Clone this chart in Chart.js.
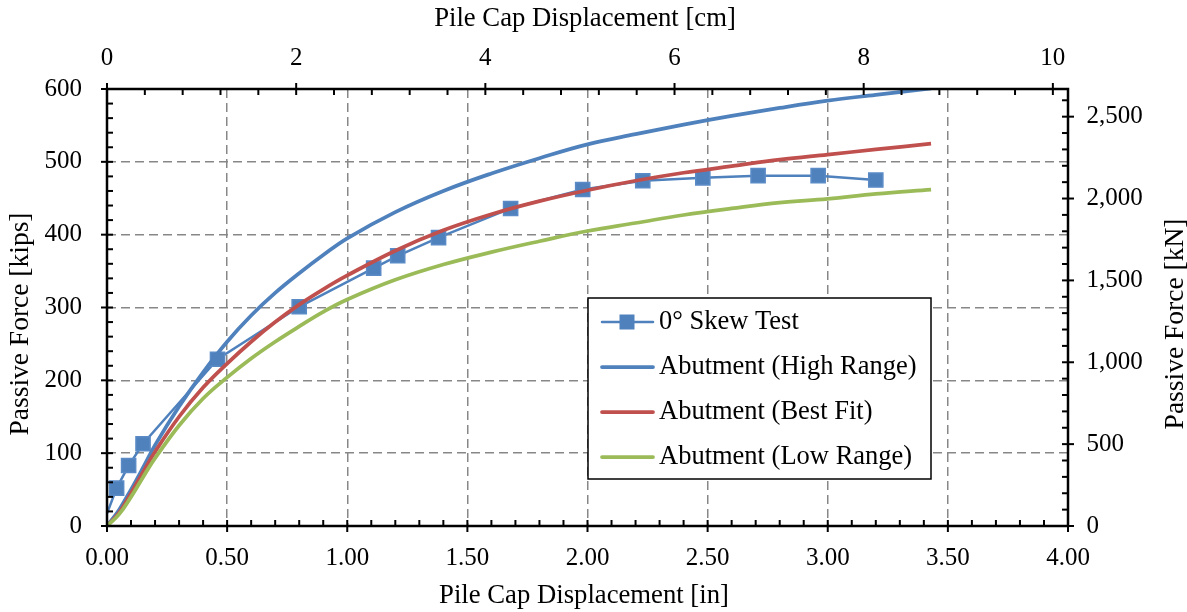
<!DOCTYPE html>
<html><head><meta charset="utf-8">
<script src="https://cdn.jsdelivr.net/npm/chart.js@4.4.0/dist/chart.umd.min.js"></script>
<style>html,body{margin:0;padding:0;background:#fff;}#wrap{width:1187px;height:612px;position:relative;}</style>
</head><body><div id="wrap"><canvas id="c" width="1187" height="612"></canvas></div>
<script>
// ---- data ----
const testX = [0, 0.04, 0.09, 0.15, 0.46, 0.80, 1.11, 1.21, 1.38, 1.68, 1.98, 2.23, 2.48, 2.71, 2.96, 3.20];
const testY = [17, 52, 83, 113, 229, 301, 354, 371, 396, 436, 462, 474, 478, 481, 481, 475];
const curveX = [0, 0.05, 0.1, 0.15, 0.2, 0.3, 0.4, 0.5, 0.6, 0.7, 0.8, 0.9, 1.0, 1.2, 1.4, 1.6, 1.8, 2.0, 2.2, 2.4, 2.6, 2.8, 3.0, 3.2, 3.43];
const highY = [0, 22, 50, 80, 111, 164, 211, 253, 289, 320, 347, 372, 395, 431, 460, 484, 505, 524, 538, 551, 563, 574, 584, 592, 601];
const bestY = [0, 18, 45, 74, 102, 150, 190, 223, 253, 280, 304, 325, 344, 378, 406, 428, 446, 461, 474, 485, 494, 503, 510, 517, 525];
const lowY  = [0, 16, 40, 67, 93, 138, 175, 204, 230, 253, 274, 294, 311, 338, 359, 376, 391, 405, 416, 427, 436, 444, 449, 456, 462];
const seriesNames = ['0° Skew Test', 'Abutment (High Range)', 'Abutment (Best Fit)', 'Abutment (Low Range)'];
const xTicksIn = [0, 0.5, 1.0, 1.5, 2.0, 2.5, 3.0, 3.5, 4.0];
const xTicksCm = [0, 2, 4, 6, 8, 10];
const yTicksKips = [0, 100, 200, 300, 400, 500, 600];
const yTicksKN = [0, 500, 1000, 1500, 2000, 2500];
const titles = {bottom: 'Pile Cap Displacement [in]', top: 'Pile Cap Displacement [cm]', left: 'Passive Force [kips]', right: 'Passive Force [kN]'};

const IN_TO_CM = 2.54, KIP_TO_KN = 4.448222;
const FONT = "'Liberation Serif', 'Times New Roman', serif";
const BLUE = '#4F81BD', RED = '#C0504D', GREEN = '#9BBB59';

const pts = (xs, ys) => xs.map((x, i) => ({x, y: ys[i]}));

const decor = {
  id: 'decor',
  afterDatasetsDraw(chart) {
    const {ctx, chartArea: a, scales} = chart;
    ctx.save();
    ctx.strokeStyle = '#000';
    ctx.lineWidth = 2;
    const line = (x1, y1, x2, y2) => {ctx.beginPath(); ctx.moveTo(x1, y1); ctx.lineTo(x2, y2); ctx.stroke();};
    const OUT = 6, IN = 6, MIN = 6;
    for (let i = 0; i <= 40; i++) {
      const x = scales.x.getPixelForValue(i / 10);
      if (i % 5 === 0) line(x, a.bottom - IN, x, a.bottom + OUT); else line(x, a.bottom - MIN, x, a.bottom);
    }
    for (let i = 0; i <= 25; i++) {
      const x = scales.x2.getPixelForValue(i * 0.4);
      if (i % 5 === 0) line(x, a.top - OUT, x, a.top + IN); else line(x, a.top, x, a.top + MIN);
    }
    for (let i = 0; i <= 30; i++) {
      const y = scales.y.getPixelForValue(i * 20);
      if (i % 5 === 0) line(a.left - OUT, y, a.left + IN, y); else line(a.left, y, a.left + MIN, y);
    }
    for (let i = 0; i <= 26; i++) {
      const y = scales.y2.getPixelForValue(i * 100);
      if (i % 5 === 0) line(a.right - IN, y, a.right + OUT, y); else line(a.right - MIN, y, a.right, y);
    }
    ctx.lineWidth = 2.5;
    ctx.strokeRect(a.left, a.top, a.right - a.left, a.bottom - a.top);
    ctx.restore();
  },
  afterDraw(chart) {
    const {ctx} = chart;
    ctx.save();
    ctx.fillStyle = '#000';
    ctx.textAlign = 'center';
    ctx.textBaseline = 'middle';
    ctx.font = '26.7px ' + FONT;
    ctx.fillText(titles.bottom, 584, 596);
    ctx.fillText(titles.top, 585, 19);
    ctx.font = '27.5px ' + FONT;
    ctx.save(); ctx.translate(20.5, 324); ctx.rotate(-Math.PI / 2); ctx.fillText(titles.left, 0, 0); ctx.restore();
    ctx.save(); ctx.translate(1175.5, 324); ctx.rotate(-Math.PI / 2); ctx.fillText(titles.right, 0, 0); ctx.restore();

    const bx = 588, by = 298, bw = 343, bh = 181;
    ctx.fillStyle = '#fff';
    ctx.fillRect(bx, by, bw, bh);
    ctx.strokeStyle = '#000';
    ctx.lineWidth = 1.5;
    ctx.strokeRect(bx, by, bw, bh);
    const rows = [322, 367, 412, 457];
    const ds = chart.data.datasets;
    ctx.font = '26.5px ' + FONT;
    ctx.textAlign = 'left';
    rows.forEach((ry, i) => {
      const d = ds[i];
      ctx.strokeStyle = d.borderColor;
      ctx.lineWidth = i === 0 ? 2.5 : 3.75;
      ctx.lineCap = 'round';
      ctx.beginPath(); ctx.moveTo(602, ry); ctx.lineTo(653, ry); ctx.stroke();
      if (i === 0) {
        ctx.fillStyle = BLUE;
        ctx.fillRect(627 - 7.5, ry - 7.5, 15, 15);
      }
      ctx.fillStyle = '#000';
      ctx.fillText(d.label, 659, ry);
    });
    ctx.restore();
  }
};

const fixSize = (prop, val) => (s) => { s[prop] = val; };

new Chart(document.getElementById('c'), {
  type: 'scatter',
  data: {
    datasets: [
      {label: seriesNames[0], data: pts(testX, testY), showLine: true, borderColor: BLUE, backgroundColor: BLUE,
       borderWidth: 2.5, pointStyle: 'rect', pointRadius: testX.map((x, i) => i === 0 ? 0 : 10),
       pointBorderColor: '#5B8BC6', pointBorderWidth: 1.5, pointBackgroundColor: BLUE, tension: 0, order: 4},
      {label: seriesNames[1], data: pts(curveX, highY), showLine: true, borderColor: BLUE, borderWidth: 3.75,
       pointRadius: 0, tension: 0.4, order: 3},
      {label: seriesNames[2], data: pts(curveX, bestY), showLine: true, borderColor: RED, borderWidth: 3.75,
       pointRadius: 0, tension: 0.4, order: 2},
      {label: seriesNames[3], data: pts(curveX, lowY), showLine: true, borderColor: GREEN, borderWidth: 3.75,
       pointRadius: 0, tension: 0.4, order: 1}
    ]
  },
  options: {
    responsive: false,
    animation: false,
    devicePixelRatio: 1,
    layout: {padding: 0},
    plugins: {legend: {display: false}, tooltip: {enabled: false}},
    scales: {
      x: {
        type: 'linear', position: 'bottom', min: 0, max: 4,
        afterBuildTicks: (s) => { s.ticks = xTicksIn.map(v => ({value: v})); },
        afterFit: fixSize('height', 86),
        ticks: {callback: (v) => Number(v).toFixed(2), font: {family: FONT, size: 25}, color: '#000', padding: 17.5, maxRotation: 0, autoSkip: false},
        grid: {color: '#878787', lineWidth: 1.5, drawTicks: false},
        border: {display: false, dash: [9, 5]}
      },
      x2: {
        type: 'linear', position: 'top', min: 0, max: 4 * IN_TO_CM,
        afterBuildTicks: (s) => { s.ticks = xTicksCm.map(v => ({value: v})); },
        afterFit: fixSize('height', 89),
        ticks: {callback: (v) => String(v), font: {family: FONT, size: 25}, color: '#000', padding: 16, maxRotation: 0, autoSkip: false},
        grid: {drawOnChartArea: false, drawTicks: false},
        border: {display: false}
      },
      y: {
        type: 'linear', position: 'left', min: 0, max: 600,
        afterBuildTicks: (s) => { s.ticks = yTicksKips.map(v => ({value: v})); },
        afterFit: fixSize('width', 107),
        ticks: {callback: (v) => String(v), font: {family: FONT, size: 25}, color: '#000', padding: 25},
        grid: {color: '#878787', lineWidth: 1.5, drawTicks: false},
        border: {display: false, dash: [9, 5]}
      },
      y2: {
        type: 'linear', position: 'right', min: 0, max: 600 * KIP_TO_KN,
        afterBuildTicks: (s) => { s.ticks = yTicksKN.map(v => ({value: v})); },
        afterFit: fixSize('width', 119),
        ticks: {callback: (v) => Number(v).toLocaleString('en-US'), font: {family: FONT, size: 25}, color: '#000', padding: 18.5},
        grid: {drawOnChartArea: false, drawTicks: false},
        border: {display: false}
      }
    }
  },
  plugins: [decor]
});
</script>
</body></html>
